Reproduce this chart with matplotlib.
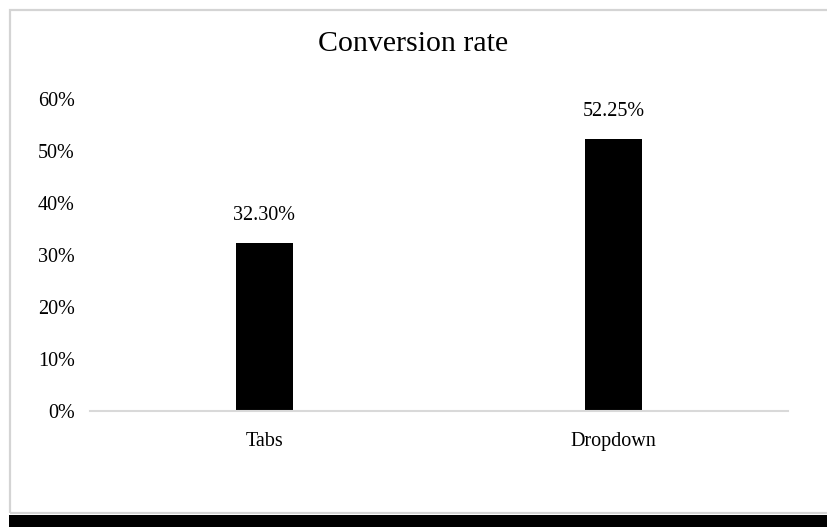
import matplotlib
matplotlib.use("Agg")
import matplotlib.pyplot as plt
from matplotlib.patches import Rectangle
from matplotlib.ticker import PercentFormatter

categories = ["Tabs", "Dropdown"]
conversion = [32.30, 52.25]
value_labels = ["32.30%", "52.25%"]
y_ticks = [0, 10, 20, 30, 40, 50, 60]

plt.rcParams["font.family"] = ["Liberation Serif", "DejaVu Serif"]

W, H, DPI = 827, 527, 100
fig = plt.figure(figsize=(W / DPI, H / DPI), dpi=DPI)
fig.patch.set_facecolor("white")

# chart frame and dark strip along the bottom
fig.patches.append(Rectangle((10 / W, (H - 513) / H), (W + 5 - 10) / W, (513 - 10) / H,
                             transform=fig.transFigure, fill=False,
                             edgecolor="#d4d4d4", linewidth=1.6))
fig.patches.append(Rectangle((9 / W, 0), (W - 9) / W, (H - 515) / H,
                             transform=fig.transFigure, facecolor="black",
                             edgecolor="none"))

left, right, top, bottom = 90, 788, 99, 411
ax = fig.add_axes([left / W, (H - bottom) / H, (right - left) / W, (bottom - top) / H])

x = list(range(len(categories)))
ax.bar(x, conversion, width=0.166, color="black")
ax.set_xlim(-0.5, len(categories) - 0.5)
ax.set_ylim(0, 60)

ax.set_yticks(y_ticks)
ax.yaxis.set_major_formatter(PercentFormatter(decimals=0))
ax.set_xticks(x)
ax.set_xticklabels(categories)
ax.tick_params(axis="y", length=0, pad=11, labelsize=14.5)
ax.tick_params(axis="x", length=0, pad=15, labelsize=14.5)

for s in ["top", "right", "left"]:
    ax.spines[s].set_visible(False)
ax.spines["bottom"].set_color("#d9d9d9")
ax.spines["bottom"].set_linewidth(1.5)

for xi, v, lab in zip(x, conversion, value_labels):
    ax.annotate(lab, (xi, v), xytext=(0, 13), textcoords="offset points",
                ha="center", va="bottom", fontsize=14.5)

fig.text(413 / W, (H - 44) / H, "Conversion rate", ha="center", va="center",
         fontsize=21.5)

fig.savefig("out.png", dpi=DPI)
